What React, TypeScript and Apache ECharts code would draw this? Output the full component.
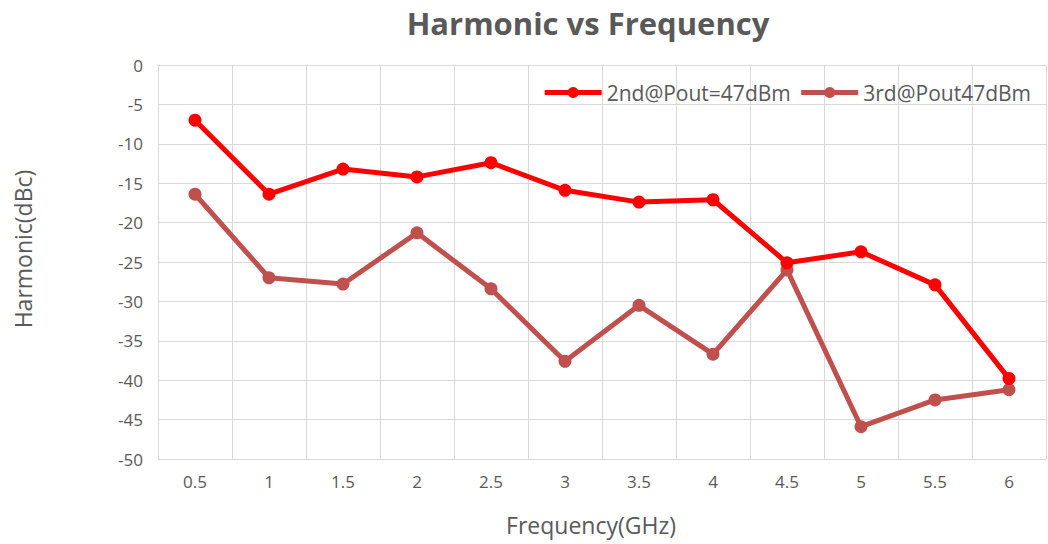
import React, { useEffect, useRef } from "react";
import * as echarts from "echarts";

const categories = ["0.5", "1", "1.5", "2", "2.5", "3", "3.5", "4", "4.5", "5", "5.5", "6"];
const second = [-7.0, -16.4, -13.2, -14.2, -12.4, -15.9, -17.4, -17.1, -25.1, -23.7, -27.9, -39.8];
const third = [-16.4, -27.0, -27.8, -21.3, -28.4, -37.6, -30.5, -36.7, -26.0, -45.9, -42.5, -41.2];

export default function App() {
  const ref = useRef<HTMLDivElement>(null);
  useEffect(() => {
    const chart = echarts.init(ref.current!, null, { renderer: "svg" });
    const font = "'Open Sans', sans-serif";
    chart.setOption({
      animation: false,
      backgroundColor: "#ffffff",
      title: {
        text: "Harmonic vs Frequency",
        left: 583,
        textAlign: "center",
        top: 2,
        textStyle: { fontFamily: font, fontSize: 31, fontWeight: "bold", color: "#595959" },
      },
      legend: {
        right: 12,
        top: 77,
        itemWidth: 57,
        itemHeight: 14,
        itemGap: 8,
        lineStyle: { width: 5 },
        textStyle: { fontFamily: font, fontSize: 21, color: "#595959" },
        data: ["2nd@Pout=47dBm", "3rd@Pout47dBm"],
      },
      grid: { left: 158, right: 2, top: 65, bottom: 85 },
      xAxis: {
        type: "category",
        data: categories,
        boundaryGap: true,
        name: "Frequency(GHz)",
        nameLocation: "middle",
        nameGap: 54,
        nameTextStyle: { fontFamily: font, fontSize: 23, color: "#595959", padding: [0, 22, 0, 0] },
        axisLine: { show: true, lineStyle: { color: "#d9d9d9" } },
        axisTick: { show: false },
        axisLabel: { fontFamily: font, fontSize: 17, color: "#595959", margin: 14 },
        splitLine: { show: true, interval: 0, lineStyle: { color: "#d9d9d9" } },
      },
      yAxis: {
        type: "value",
        min: -50,
        max: 0,
        interval: 5,
        name: "Harmonic(dBc)",
        nameLocation: "middle",
        nameGap: 124,
        nameTextStyle: { fontFamily: font, fontSize: 23, color: "#595959", padding: [0, 0, 0, 26] },
        axisLine: { show: false },
        axisTick: { show: false },
        axisLabel: { fontFamily: font, fontSize: 17, color: "#595959", margin: 15 },
        splitLine: { show: true, lineStyle: { color: "#d9d9d9" } },
      },
      series: [
        {
          name: "2nd@Pout=47dBm",
          type: "line",
          data: second,
          symbol: "circle",
          symbolSize: 13,
          itemStyle: { color: "#ff0000" },
          lineStyle: { width: 5, color: "#ff0000" },
          z: 3,
        },
        {
          name: "3rd@Pout47dBm",
          type: "line",
          data: third,
          symbol: "circle",
          symbolSize: 13,
          itemStyle: { color: "#c0504d" },
          lineStyle: { width: 5, color: "#c0504d" },
          z: 2,
        },
      ],
    });
    return () => chart.dispose();
  }, []);
  return <div ref={ref} style={{ width: 1048, height: 544, position: "absolute", left: 0, top: 0 }} />;
}
